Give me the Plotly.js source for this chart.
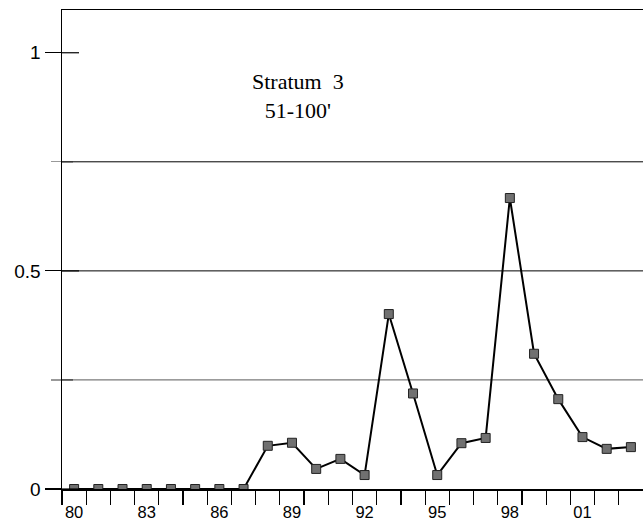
<!DOCTYPE html>
<html>
<head>
<meta charset="utf-8">
<script src="https://cdn.plot.ly/plotly-3.0.1.min.js"></script>
<style>
  html, body { margin: 0; padding: 0; background: #fff; }
  #chart { width: 643px; height: 520px; }
</style>
</head>
<body>
<div id="chart"></div>
<script>
// Survey years (19xx, with 100+ meaning 20xx) and index values for the stratum
const years = [80, 81, 82, 83, 84, 85, 86, 87, 88, 89, 90, 91, 92, 93, 94, 95, 96, 97, 98, 99, 100, 101, 102, 103];
const values = [0, 0, 0, 0, 0, 0, 0, 0, 0.099, 0.106, 0.046, 0.069, 0.032, 0.401, 0.219, 0.032, 0.105, 0.117, 0.667, 0.31, 0.206, 0.119, 0.092, 0.096];

// Labelled years on the x axis
const xTickVals = [80, 83, 86, 89, 92, 95, 98, 101];
const xTickText = ['80', '83', '86', '89', '92', '95', '98', '01'];

// Tick marks sit between the years
const xBoundaries = [];
for (let y = 79.5; y <= 102.5; y += 1) xBoundaries.push(y);

const yMajor = [0, 0.5, 1];
const yMajorText = ['0', '0.5', '1'];
const yMinor = [0.25, 0.75];

const trace = {
  x: years,
  y: values,
  type: 'scatter',
  mode: 'lines+markers',
  line: { color: '#000', width: 2 },
  marker: { symbol: 'square', size: 9, color: '#707070', line: { color: '#222', width: 1 } },
  hoverinfo: 'skip',
  showlegend: false
};

// Short inward halves of the y ticks (ticks cross the axis line)
const shapes = [];
yMajor.forEach(v => shapes.push({
  type: 'line', xref: 'paper', yref: 'y', x0: 0, x1: 17 / 581, y0: v, y1: v,
  line: { color: '#000', width: 1.2 }
}));
yMinor.forEach(v => shapes.push({
  type: 'line', xref: 'paper', yref: 'y', x0: 0, x1: 11 / 581, y0: v, y1: v,
  line: { color: '#333', width: 1.2 }
}));
// Horizontal reference lines
shapes.push({ type: 'line', xref: 'paper', yref: 'y', x0: 0, x1: 1, y0: 0.75, y1: 0.75, line: { color: '#000', width: 1 }, layer: 'below' });
shapes.push({ type: 'line', xref: 'paper', yref: 'y', x0: 0, x1: 1, y0: 0.5, y1: 0.5, line: { color: '#000', width: 1 }, layer: 'below' });
shapes.push({ type: 'line', xref: 'paper', yref: 'y', x0: 0, x1: 1, y0: 0.25, y1: 0.25, line: { color: '#7a7a7a', width: 1.3 }, layer: 'below' });

const layout = {
  width: 643,
  height: 520,
  margin: { l: 62, r: 0, t: 10, b: 31 },
  paper_bgcolor: '#fff',
  plot_bgcolor: '#fff',
  font: { family: 'Liberation Sans, Arial, sans-serif', color: '#000' },
  showlegend: false,
  xaxis: {
    range: [79.5, 103.5],
    showgrid: false,
    zeroline: false,
    showline: true,
    linecolor: '#000',
    linewidth: 1.5,
    mirror: true,
    tickvals: xTickVals,
    ticktext: xTickText,
    ticks: 'outside',
    ticklen: 8,
    tickcolor: 'rgba(0,0,0,0)',
    tickfont: { size: 16.5, family: 'Liberation Sans, Arial, sans-serif', color: '#000' },
    minor: { tickvals: xBoundaries, ticks: 'outside', ticklen: 14, tickwidth: 1.2, tickcolor: '#000', showgrid: false }
  },
  yaxis: {
    range: [0, 1.098],
    showgrid: false,
    zeroline: false,
    showline: true,
    linecolor: '#000',
    linewidth: 1.5,
    tickvals: yMajor,
    ticktext: yMajorText,
    ticks: 'outside',
    ticklen: 16,
    tickwidth: 1.2,
    tickcolor: '#000',
    tickfont: { size: 19, family: 'Liberation Sans, Arial, sans-serif', color: '#000' },
    minor: { tickvals: yMinor, ticks: 'outside', ticklen: 10, tickwidth: 1.2, tickcolor: '#999', showgrid: false }
  },
  shapes: shapes,
  annotations: [{
    xref: 'paper', yref: 'paper',
    x: 0.407, y: 0.8205,
    xanchor: 'center', yanchor: 'middle',
    text: 'Stratum\u00a0\u00a03<br>51-100\'',
    showarrow: false,
    align: 'center',
    font: { family: 'Liberation Serif, Times New Roman, serif', size: 22, color: '#000' }
  }]
};

Plotly.newPlot('chart', [trace], layout, { staticPlot: true, displayModeBar: false });
</script>
</body>
</html>
